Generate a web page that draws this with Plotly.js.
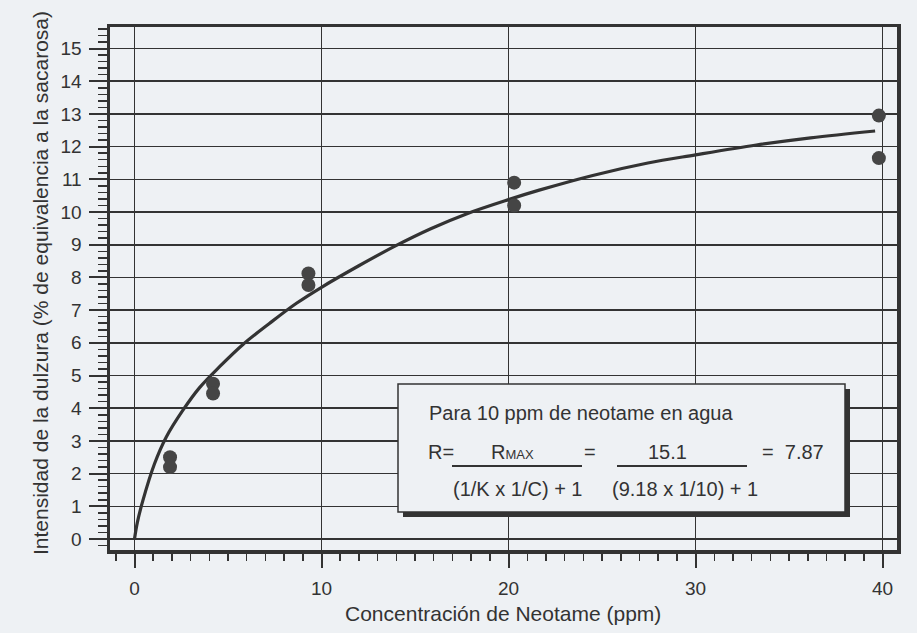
<!DOCTYPE html>
<html>
<head>
<meta charset="utf-8">
<script src="https://cdn.plot.ly/plotly-3.0.1.min.js"></script>
<style>
  html, body { margin: 0; padding: 0; background: #eef1f4; }
  #chart { width: 917px; height: 633px; }
</style>
</head>
<body>
<div id="chart"></div>
<script>
// Fitted curve
const curveX = [0, 0.15, 0.45, 1.07, 1.70, 2.59, 3.48, 4.55, 5.80, 7.23, 8.66, 10.0, 11.97, 13.9, 15.84, 17.78, 20.0, 21.64, 24.5, 27.45, 30.0, 33.25, 36.15, 39.6];
const curveY = [0, 0.50, 1.18, 2.30, 3.12, 3.94, 4.63, 5.27, 5.95, 6.60, 7.21, 7.70, 8.35, 8.95, 9.49, 9.95, 10.38, 10.67, 11.12, 11.50, 11.75, 12.05, 12.27, 12.48];

// Measured points
const pointX = [1.9, 1.9, 4.2, 4.2, 9.3, 9.3, 20.3, 20.3, 39.8, 39.8];
const pointY = [2.5, 2.2, 4.75, 4.45, 8.12, 7.77, 10.9, 10.2, 12.95, 11.65];

// Axis ticks
const xTicks = [0, 10, 20, 30, 40];
const yTicks = [0,1,2,3,4,5,6,7,8,9,10,11,12,13,14,15];

// Texts
const xTitle = "Concentración de Neotame (ppm)";
const yTitle = "Intensidad de la dulzura (% de equivalencia a la sacarosa)";
const boxTitle = "Para 10 ppm de neotame en agua";

const ink = "#333333";
const bg = "#eef1f4";
const FONT = "Liberation Sans, Arial, Helvetica, sans-serif";

// plot area in pixels
const L = 110, R = 897, T = 27, B = 550;
const px = x => (x - L) / (R - L);
const py = y => (B - y) / (B - T);

const traces = [
  {
    x: curveX, y: curveY, type: "scatter", mode: "lines",
    line: { color: ink, width: 3.2, shape: "spline", smoothing: 1 },
    hoverinfo: "skip", showlegend: false
  },
  {
    x: pointX, y: pointY, type: "scatter", mode: "markers",
    marker: { color: "#454545", size: 14, line: { width: 0 } },
    showlegend: false
  }
];

function ann(text, x, y, size, xanchor, extra) {
  return Object.assign({
    text: text, xref: "paper", yref: "paper", x: px(x), y: py(y),
    xanchor: xanchor || "center", yanchor: "middle", showarrow: false,
    font: { family: FONT, size: size, color: ink }
  }, extra || {});
}

const layout = {
  width: 917, height: 633,
  paper_bgcolor: bg, plot_bgcolor: bg,
  margin: { l: L, r: 917 - R, t: T, b: 633 - B, pad: 0 },
  font: { family: FONT, color: ink },
  showlegend: false,
  xaxis: {
    range: [-1.31, 40.77],
    tickvals: xTicks, ticktext: xTicks.map(String),
    ticks: "outside", ticklen: 14, tickwidth: 2, tickcolor: ink,
    ticklabelstandoff: 5,
    minor: { dtick: 1, tick0: 0, ticks: "outside", ticklen: 7, tickwidth: 1.5, tickcolor: ink, showgrid: false },
    showgrid: true, gridcolor: ink, gridwidth: 1.6,
    zeroline: false,
    showline: true, linecolor: ink, linewidth: 3.5, mirror: true,
    tickfont: { family: FONT, size: 19, color: ink },
    fixedrange: true
  },
  yaxis: {
    range: [-0.336, 15.66],
    tickvals: yTicks, ticktext: yTicks.map(String),
    ticks: "outside", ticklen: 18, tickwidth: 2, tickcolor: ink,
    ticklabelstandoff: 3,
    minor: { dtick: 0.2, tick0: 0, ticks: "outside", ticklen: 9, tickwidth: 1.5, tickcolor: ink, showgrid: false },
    showgrid: true, gridcolor: ink, gridwidth: 1.6,
    zeroline: false,
    showline: true, linecolor: ink, linewidth: 3.5, mirror: true,
    tickfont: { family: FONT, size: 19, color: ink },
    fixedrange: true
  },
  shapes: [
    // inset box shadow
    { type: "rect", xref: "paper", yref: "paper", layer: "above",
      x0: px(403), x1: px(850), y0: py(517), y1: py(389),
      fillcolor: ink, line: { width: 0 } },
    // inset box
    { type: "rect", xref: "paper", yref: "paper", layer: "above",
      x0: px(398), x1: px(845), y0: py(512), y1: py(384),
      fillcolor: bg, line: { color: ink, width: 1.5 } },
    // fraction bars
    { type: "line", xref: "paper", yref: "paper", layer: "above",
      x0: px(452), x1: px(582), y0: py(466), y1: py(466),
      line: { color: ink, width: 2 } },
    { type: "line", xref: "paper", yref: "paper", layer: "above",
      x0: px(617), x1: px(747), y0: py(466), y1: py(466),
      line: { color: ink, width: 2 } }
  ],
  annotations: [
    ann(xTitle, 503, 613, 21, "center"),
    ann(yTitle, 40, 283, 21, "center", { textangle: -90 }),
    ann(boxTitle, 427, 413, 20, "left"),
    ann("R=", 426, 452, 20, "left"),
    ann("R<span style='font-size:13px'>MAX</span>", 512, 452, 20, "center"),
    ann("=", 590, 452, 20, "center"),
    ann("15.1", 667, 452, 20, "center"),
    ann("=  7.87", 760, 452, 20, "left"),
    ann("(1/K x 1/C) + 1", 518, 489, 20, "center"),
    ann("(9.18 x 1/10) + 1", 685, 489, 20, "center")
  ]
};

Plotly.newPlot("chart", traces, layout, { staticPlot: true, displayModeBar: false });
</script>
</body>
</html>
